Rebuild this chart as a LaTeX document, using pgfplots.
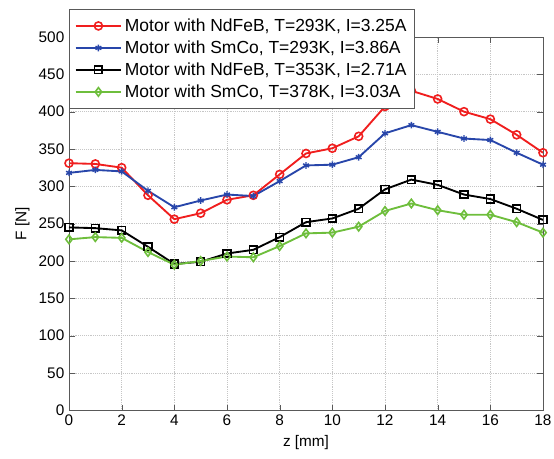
\documentclass[border=0pt]{standalone}
\usepackage{pgfplots}
\pgfplotsset{compat=1.18}
\usepackage{fontspec}
\setmainfont{Liberation Sans}
\definecolor{mred}{RGB}{240,30,30}
\definecolor{mblue}{RGB}{40,70,170}
\definecolor{mgreen}{RGB}{110,190,60}
\begin{document}
\begin{tikzpicture}
\begin{axis}[
    scale only axis,
    width=355.5pt, height=280pt,
    xmin=0, xmax=18, ymin=0, ymax=500,
    xtick={0,2,...,18}, ytick={0,50,...,500},
    tick align=inside,
    grid=major,
    major grid style={densely dotted, gray!45},
    axis line style={gray!70!black},
    tick style={gray!70!black},
    /pgf/number format/assume math mode=true,
    ticklabel style={font=\fontsize{11.5}{13}\selectfont},
    label style={font=\fontsize{11.5}{13}\selectfont},
    xlabel={z [mm]},
    ylabel={F [N]},
    every axis plot/.append style={line width=1.4pt},
    legend cell align=left,
    legend style={at={(rel axis cs:0,1.075)}, anchor=north west,
        font=\fontsize{13.1}{15}\selectfont, draw=gray!70!black,
        row sep=1.5pt, inner xsep=4pt, inner ysep=5pt},
    legend image code/.code={\draw[mark repeat=2,mark phase=2,line width=1.6pt]
        plot coordinates {(0cm,0cm)(0.6cm,0cm)(1.2cm,0cm)};},
]
\addplot[mred, mark=o, mark size=3pt, mark options={solid, line width=1.2pt}] coordinates {
(0,331)(1,330)(2,325)(3,288)(4,256)(5,264)(6,282)(7,288)(8,316)(9,344)
(10,351)(11,367)(12,407)(13,428)(14,417)(15,400)(16,390)(17,369)(18,345)
};
\addlegendentry{Motor with NdFeB, T=293K, I=3.25A}
\addplot[mblue, mark=asterisk, mark size=2.5pt, mark options={solid, line width=1.1pt}] coordinates {
(0,318)(1,322)(2,320)(3,294)(4,272)(5,281)(6,289)(7,287)(8,307)(9,328)
(10,329)(11,339)(12,371)(13,382)(14,373)(15,364)(16,362)(17,345)(18,329)
};
\addlegendentry{Motor with SmCo, T=293K, I=3.86A}
\addplot[black, mark=square, mark size=2.8pt, mark options={solid, line width=1.2pt}] coordinates {
(0,245)(1,244)(2,241)(3,219)(4,196)(5,199)(6,210)(7,215)(8,232)(9,252)
(10,257)(11,270)(12,296)(13,309)(14,302)(15,289)(16,283)(17,270)(18,255)
};
\addlegendentry{Motor with NdFeB, T=353K, I=2.71A}
\addplot[mgreen, mark=diamond, mark size=3.2pt, mark options={solid, line width=1.2pt}] coordinates {
(0,229)(1,232)(2,231)(3,212)(4,195)(5,200)(6,206)(7,205)(8,220)(9,237)
(10,238)(11,246)(12,267)(13,277)(14,268)(15,262)(16,262)(17,252)(18,238)
};
\addlegendentry{Motor with SmCo, T=378K, I=3.03A}
\end{axis}
\pgfresetboundingbox
\path[use as bounding box] (-51.75pt,-36pt) rectangle (363.75pt,307.75pt);
\end{tikzpicture}
\end{document}
